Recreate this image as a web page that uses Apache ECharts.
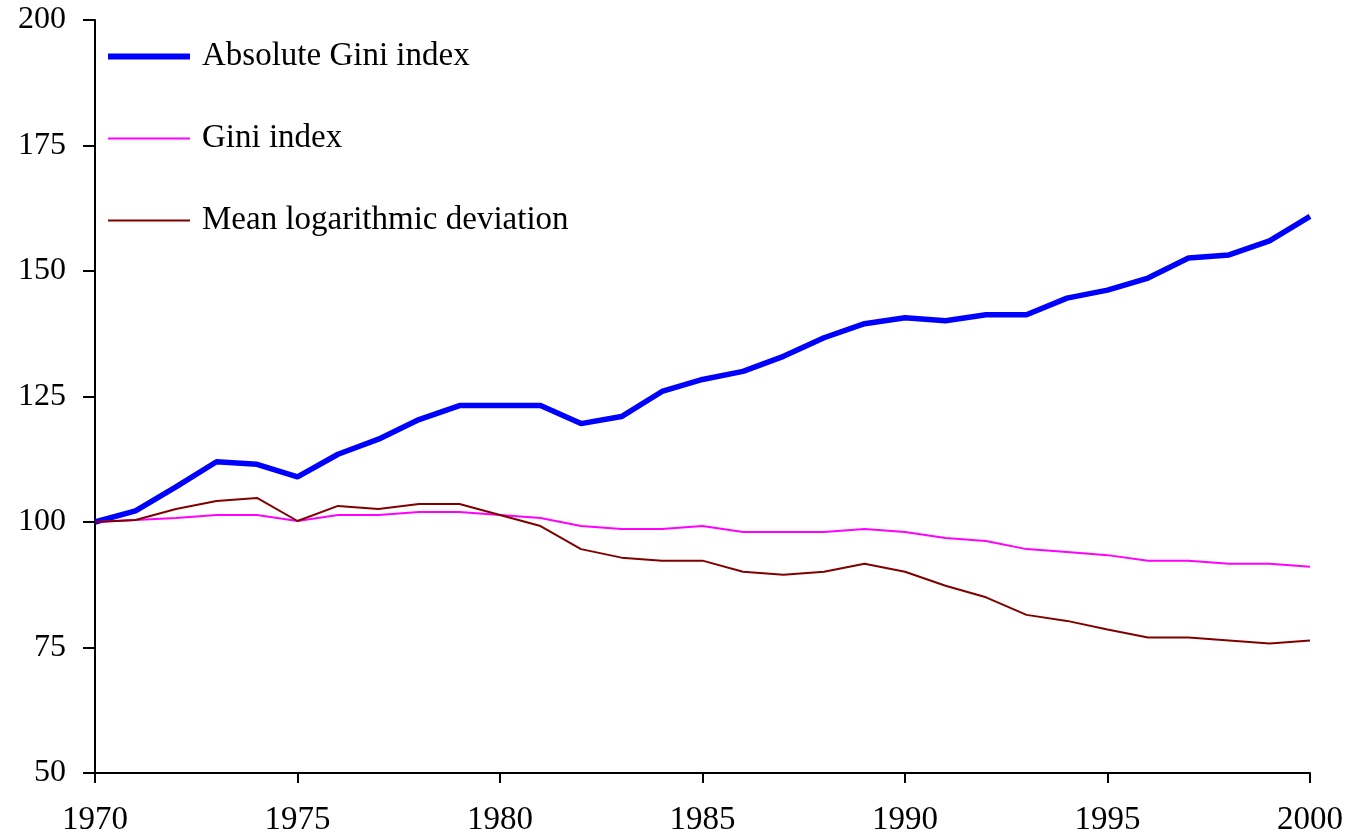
<!DOCTYPE html>
<html>
<head>
<meta charset="utf-8">
<script src="https://cdn.jsdelivr.net/npm/echarts@6/dist/echarts.min.js"></script>
<style>
  html, body { margin: 0; padding: 0; background: #fff; }
  #chart { width: 1348px; height: 837px; }
</style>
</head>
<body>
<div id="chart"></div>
<script>
const years = [];
for (let y = 1970; y <= 2000; y++) years.push(y);

const absoluteGini = [100, 102.2, 107, 112, 111.5, 109, 113.5, 116.5, 120.4, 123.2, 123.2, 123.2, 119.6, 121, 126, 128.4, 130, 133, 136.7, 139.5, 140.7, 140.1, 141.3, 141.3, 144.6, 146.2, 148.6, 152.6, 153.2, 156, 160.9];
const gini = [100, 100.4, 100.8, 101.4, 101.4, 100.2, 101.4, 101.4, 102, 102, 101.4, 100.8, 99.2, 98.6, 98.6, 99.2, 98, 98, 98, 98.6, 98, 96.8, 96.2, 94.6, 94, 93.4, 92.3, 92.3, 91.7, 91.7, 91.1];
const mld = [100, 100.4, 102.6, 104.2, 104.8, 100.2, 103.2, 102.6, 103.6, 103.6, 101.4, 99.2, 94.6, 92.9, 92.3, 92.3, 90.1, 89.5, 90.1, 91.7, 90.1, 87.3, 85, 81.5, 80.3, 78.6, 77, 77, 76.4, 75.8, 76.4];

const font = 'Liberation Serif';

function pairs(vals) {
  return years.map((y, i) => [y, vals[i]]);
}

// legend swatches: plain bars, thickness matching each line
const thickBar = 'path://M0,0 L82,0 L82,6 L0,6 Z';
const thinBar = 'path://M0,0 L82,0 L82,2 L0,2 Z';

const chart = echarts.init(document.getElementById('chart'));
chart.setOption({
  animation: false,
  backgroundColor: '#fff',
  grid: { left: 95, right: 38, top: 20, bottom: 61, containLabel: false },
  legend: {
    orient: 'vertical',
    left: 103,
    top: 35,
    itemWidth: 82,
    itemHeight: 10,
    itemGap: 49,
    symbolKeepAspect: true,
    textStyle: { fontFamily: font, fontSize: 33, lineHeight: 33, color: '#000', padding: [0, 0, 0, 7] },
    data: [
      { name: 'Absolute Gini index', icon: thickBar },
      { name: 'Gini index', icon: thinBar },
      { name: 'Mean logarithmic deviation', icon: thinBar }
    ]
  },
  xAxis: {
    type: 'value',
    min: 1970,
    max: 2000,
    interval: 5,
    axisLine: { lineStyle: { color: '#000', width: 2 } },
    axisTick: { show: true, length: 10, lineStyle: { color: '#000', width: 2 } },
    axisLabel: { fontFamily: font, fontSize: 33, color: '#000', margin: 31, formatter: v => String(v) },
    splitLine: { show: false }
  },
  yAxis: {
    type: 'value',
    min: 50,
    max: 200,
    interval: 25,
    axisLine: { show: true, lineStyle: { color: '#000', width: 2 } },
    axisTick: { show: true, length: 12, lineStyle: { color: '#000', width: 2 } },
    axisLabel: { fontFamily: font, fontSize: 32, color: '#000', margin: 29 },
    splitLine: { show: false }
  },
  series: [
    {
      name: 'Absolute Gini index',
      type: 'line',
      data: pairs(absoluteGini),
      symbol: 'none',
      color: '#0000ff',
      lineStyle: { color: '#0000ff', width: 5.5 }
    },
    {
      name: 'Gini index',
      type: 'line',
      data: pairs(gini),
      symbol: 'none',
      color: '#ff00ff',
      lineStyle: { color: '#ff00ff', width: 2 }
    },
    {
      name: 'Mean logarithmic deviation',
      type: 'line',
      data: pairs(mld),
      symbol: 'none',
      color: '#800000',
      lineStyle: { color: '#800000', width: 2 }
    }
  ]
});
</script>
</body>
</html>
